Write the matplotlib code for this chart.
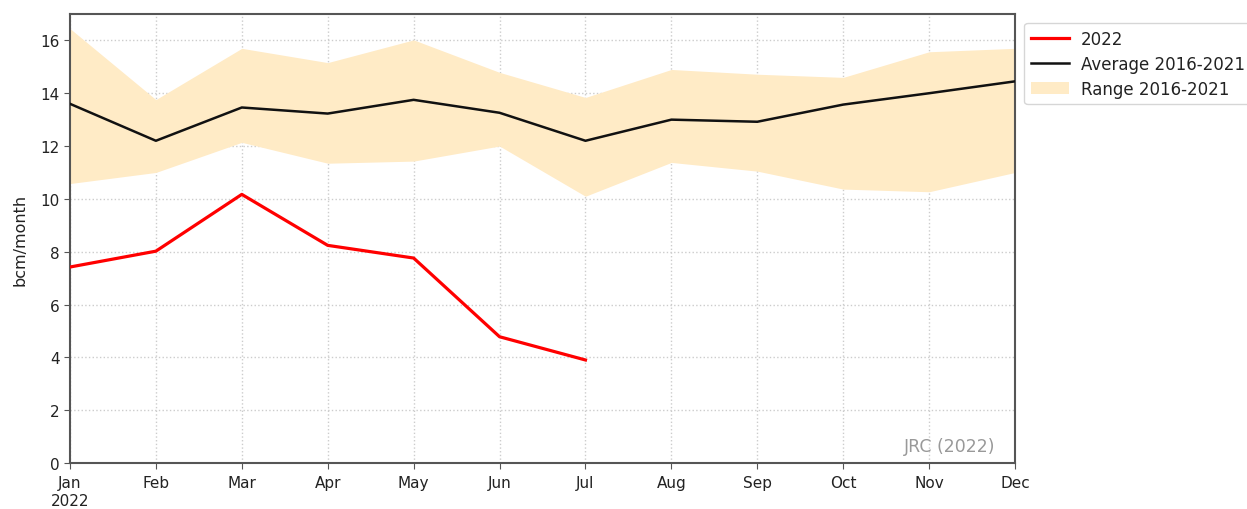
import matplotlib
matplotlib.use("Agg")
import matplotlib.pyplot as plt
import numpy as np

months = ["Jan\n2022", "Feb", "Mar", "Apr", "May", "Jun", "Jul", "Aug", "Sep", "Oct", "Nov", "Dec"]
val_2022 = [7.42, 8.02, 10.17, 8.24, 7.76, 4.78, 3.9]
avg_2016_2021 = [13.6, 12.2, 13.46, 13.23, 13.75, 13.26, 12.2, 13.0, 12.92, 13.57, 14.0, 14.45]
range_high = [16.45, 13.76, 15.7, 15.16, 16.02, 14.79, 13.84, 14.9, 14.72, 14.6, 15.57, 15.7]
range_low = [10.58, 11.0, 12.14, 11.35, 11.43, 12.0, 10.1, 11.38, 11.05, 10.37, 10.27, 11.0]

plt.rcParams['font.family'] = ['DejaVu Sans']
fig = plt.figure(figsize=(12.47, 5.10), dpi=100)
ax = fig.add_axes([0.0561, 0.0902, 0.7579, 0.8804])

x_all = np.arange(len(months))
x_2022 = np.arange(len(val_2022))

ax.fill_between(x_all, range_low, range_high, color="#ffebc6", linewidth=0, label="Range 2016-2021", zorder=1)
ax.plot(x_2022, val_2022, color="#ff0000", lw=2.3, label="2022", zorder=3)
ax.plot(x_all, avg_2016_2021, color="#111111", lw=1.8, label="Average 2016-2021", zorder=3)

ax.set_xlim(0, 11)
ax.set_ylim(0, 17)
ax.set_yticks(range(0, 17, 2))
ax.set_xticks(x_all)
ax.set_xticklabels(months, fontsize=11, color="#222222")
ax.tick_params(axis='y', labelsize=11, labelcolor="#222222")
ax.tick_params(axis='x', pad=5)
ax.tick_params(axis='both', color="#555555", length=4)
ax.set_ylabel("bcm/month", fontsize=11.5, color="#222222", labelpad=9)
ax.grid(True, linestyle=':', color="#cccccc", linewidth=1.0, zorder=0)
ax.set_axisbelow(True)
for s in ax.spines.values():
    s.set_color("#555555")
    s.set_linewidth(1.5)

ax.text(0.979, 0.038, "JRC (2022)", transform=ax.transAxes, ha="right", va="center",
        fontsize=12.5, color="#999999")

handles, labels = ax.get_legend_handles_labels()
order = [labels.index("2022"), labels.index("Average 2016-2021"), labels.index("Range 2016-2021")]
leg = ax.legend([handles[i] for i in order], [labels[i] for i in order],
                loc="upper left", bbox_to_anchor=(1.0, 1.0), fontsize=12, frameon=True,
                edgecolor="#cccccc", fancybox=True, handlelength=2.3, handletextpad=0.7,
                borderaxespad=0.55, labelspacing=0.42)
for t in leg.get_texts():
    t.set_color("#222222")

fig.savefig("out.png", dpi=100)
